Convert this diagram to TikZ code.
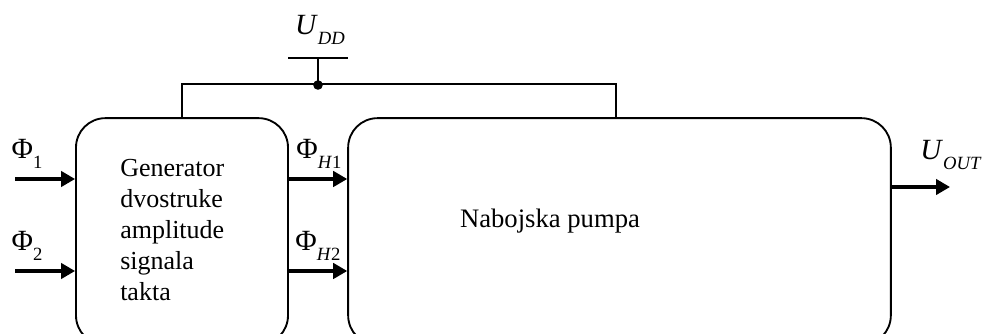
\documentclass[tikz,border=0pt]{standalone}
\usepackage{fontspec}
\setmainfont{Liberation Serif}
\usetikzlibrary{positioning, arrows.meta, calc}

\newcommand{\lsub}[1]{\raisebox{-0.7ex}{\fontsize{14}{14}\selectfont #1}}

\begin{document}
\begin{tikzpicture}[
    x=0.75pt, y=-0.75pt,
    font=\fontsize{19.5}{23.25}\selectfont,
    block/.style={
        draw, line width=1.4pt,
        rounded corners=22pt,
        minimum height=170pt
    },
    arrow/.style={-{Triangle[length=10.5pt, width=11.5pt]}, line width=2.4pt},
    wire/.style={line width=1.3pt},
    sig/.style={font=\fontsize{22}{22}\selectfont, inner sep=0pt},
]

\clip (0,0) rectangle (986,334);

% ---------- Blocks ----------
\node[block, minimum width=159pt] (gen) at (182,231.5) {};
\node[block, minimum width=407pt] (pump) at (619.5,231.5) {};

\node[align=left, anchor=west, inner sep=0pt] (gentxt) at (120,230)
    {Generator\\dvostruke\\amplitude\\signala\\takta};
\node[inner sep=0pt, font=\fontsize{20}{24}\selectfont] (pumptxt) at (550,221) {Nabojska pumpa};

% ---------- Supply ----------
\coordinate (vddtap) at (318,85);
\coordinate (vddbar) at (318,58);
\draw[wire] (gen.north) -- ++(0,-33) -| ([xshift=-2.6pt]pump.north);
\draw[wire] (vddtap) -- (vddbar);
\draw[wire] ([xshift=-22.5pt]vddbar) -- ([xshift=22.5pt]vddbar);
\fill (vddtap) circle[radius=3.6pt];
\node[sig] (udd) at (320,30) {\textit{U}\lsub{\textit{DD}}};

% ---------- Inputs ----------
\coordinate (phi1in) at (15,179);
\coordinate (phi2in) at (15,271);
\draw[arrow] (phi1in) -- (phi1in -| gen.west);
\draw[arrow] (phi2in) -- (phi2in -| gen.west);
\node[sig] (phi1) at (27,154) {Φ\lsub{1}};
\node[sig] (phi2) at (27,246) {Φ\lsub{2}};

% ---------- Clock outputs ----------
\draw[arrow] (phi1in -| gen.east) -- (phi1in -| pump.west);
\draw[arrow] (phi2in -| gen.east) -- (phi2in -| pump.west);
\node[sig] (phih1) at (319,154) {Φ\lsub{\textit{H}1}};
\node[sig] (phih2) at (318,246) {Φ\lsub{\textit{H}2}};

% ---------- Output ----------
\coordinate (uout) at (950,187);
\draw[arrow] (pump.east |- uout) -- (uout);
\node[sig] (uoutlbl) at (951,155) {\textit{U}\lsub{\textit{OUT}}};

\end{tikzpicture}
\end{document}
